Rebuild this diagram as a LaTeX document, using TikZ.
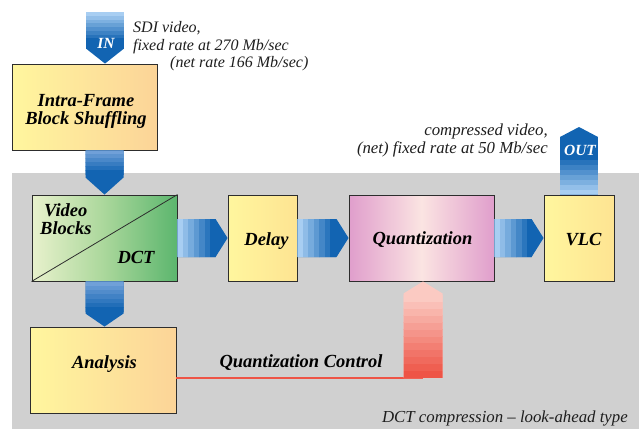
\documentclass[tikz,border=0pt]{standalone}
\usepackage{fontspec}
\setmainfont{Liberation Serif}
\usetikzlibrary{calc}

\definecolor{bg}{RGB}{208,208,208}
\definecolor{blight}{RGB}{168,206,242}
\definecolor{bmid}{RGB}{112,160,216}
\definecolor{bdark}{RGB}{18,100,178}
\definecolor{rdark}{RGB}{238,84,70}
\definecolor{rlight}{RGB}{251,202,194}
\definecolor{ylw}{RGB}{255,246,158}
\definecolor{org}{RGB}{252,212,152}
\definecolor{ylw2}{RGB}{254,228,146}
\definecolor{grnlight}{RGB}{232,241,204}
\definecolor{grnmid}{RGB}{170,215,155}
\definecolor{grndark}{RGB}{92,182,110}
\definecolor{pinkedge}{RGB}{224,158,204}
\definecolor{pinkmid}{RGB}{251,228,226}
\definecolor{boxline}{RGB}{45,45,45}
\definecolor{txt}{RGB}{30,30,30}

% Banded block arrow from #1 to #2:
% #3 half width, #4 head length, #5 colour at start, #6 colour at end,
% #7 length of the banded part, #8 number of bands
\newcommand\flowarrow[8]{%
  \path let \p1=(#1), \p2=(#2) in \pgfextra{%
    \pgfmathsetmacro\tmpa{veclen(\x2-\x1,\y2-\y1)}\global\let\flLen\tmpa
    \pgfmathsetmacro\tmpb{atan2(\y2-\y1,\x2-\x1)}\global\let\flAng\tmpb};
  \begin{scope}[shift={(#1)}, rotate=\flAng, x=1pt, y=1pt]
    \clip (0,-#3) -- ({\flLen-#4},-#3) -- (\flLen,0) -- ({\flLen-#4},#3) -- (0,#3) -- cycle;
    \fill[#6] (-1,{-#3-1}) rectangle ({\flLen+1},{#3+1});
    \pgfmathsetmacro\bw{#7/#8}
    \foreach \i in {1,...,#8}{%
      \pgfmathsetmacro\pc{(\i-1)*100/(#8-1)}
      \fill[#6!\pc!#5] ({(\i-1)*\bw},{-#3-1}) rectangle ({\i*\bw+0.4},{#3+1});
    }
  \end{scope}}

\begin{document}
\begin{tikzpicture}[x=1pt, y=-1pt,
  box/.style={draw=boxline, line width=0.9pt, minimum width=#1, minimum height=86pt, inner sep=0pt},
  yellowbox/.style={box=#1, left color=ylw, right color=org},
  paleyellow/.style={box=#1, left color=ylw, right color=ylw2},
  bl/.style={font=\fontsize{18.5}{18}\selectfont\bfseries\itshape, inner sep=0pt, align=center},
  note/.style={font=\fontsize{16}{18}\selectfont\itshape, text=txt, inner sep=0pt},
  widenote/.style={note, font=\fontsize{16.8}{18}\selectfont\itshape},
  tag/.style={font=\fontsize{15.5}{16}\selectfont\bfseries\itshape, text=white, inner sep=0pt},
  redline/.style={draw=rdark, line width=2pt}]

\useasboundingbox (0,0) rectangle (639,429);

% compression unit background
\fill[bg] (12,173) rectangle (639,429);

% processing blocks
\node[yellowbox=145] (ifs) at (84.5,107) {};
\node[box=145, left color=grnlight, right color=grndark, middle color=grnmid] (vb) at (104.5,238) {};
\draw[boxline, line width=0.8pt] (vb.south west) -- (vb.north east);
\node[paleyellow=69] (delay) at (262.5,238) {};
\node[box=145, left color=pinkedge, right color=pinkedge, middle color=pinkmid] (quant) at (421.5,238) {};
\node[paleyellow=70] (vlc) at (579,238) {};
\node[yellowbox=146] (ana) at (103,370) {};

% block labels
\node[bl] (ifst) at ([xshift=1.5pt, yshift=-4pt]ifs.center) {Intra-Frame\\Block Shuffling};
\node[bl] (delayt) at ([xshift=4pt, yshift=-3pt]delay.center) {Delay};
\node[bl] (quantt) at ([xshift=1pt, yshift=-2pt]quant.center) {Quantization};
\node[bl] (vlct) at ([xshift=4.5pt, yshift=-2pt]vlc.center) {VLC};
\node[bl] (anat) at ([xshift=1.5pt, yshift=6pt]ana.center) {Analysis};
\node[bl, anchor=base west] (vbt1) at (44,216) {Video};
\node[bl, anchor=base west] (vbt2) at (40,234) {Blocks};
\node[bl, anchor=base] (dct) at (136,263) {DCT};

% free ends of the flow
\coordinate (in) at (105,12);
\coordinate (out) at (579,127);
\coordinate (qc) at (423,378);

% quantization control line
\draw[redline] (ana.east |- qc) -- (qc);

% flow arrows
\flowarrow{in}{in |- ifs.north}{19}{15}{blight}{bdark}{30}{8}
\flowarrow{ifs.south -| vb.north}{vb.north}{19}{17}{bmid}{bdark}{24}{6}
\flowarrow{vb.south}{vb.south |- ana.north}{19}{13}{bmid}{bdark}{30}{7}
\flowarrow{vb.east}{delay.west}{19}{12}{blight}{bdark}{38}{7}
\flowarrow{delay.east}{quant.west}{19}{12}{blight}{bdark}{38}{7}
\flowarrow{quant.east}{vlc.west}{19}{12}{blight}{bdark}{38}{7}
\flowarrow{vlc.north}{out}{19}{10}{blight}{bdark}{40}{8}
\flowarrow{qc}{qc |- quant.south}{19.5}{12}{rdark}{rlight}{83}{12}

\node[tag] (intag) at (106,43) {IN};
\node[tag] (outtag) at (580,150) {OUT};

% annotations
\node[note, anchor=base west] (sdi1) at (133,32) {SDI video,};
\node[note, anchor=base west] (sdi2) at (133,50) {fixed rate at 270 Mb/sec};
\node[note, anchor=base west] (sdi3) at (170,67) {(net rate 166 Mb/sec)};
\node[widenote, anchor=base east] (cv1) at (548,135) {compressed video,};
\node[widenote, anchor=base east] (cv2) at (548,153) {(net) fixed rate at 50 Mb/sec};
\node[bl, anchor=base] (qctl) at (301,367) {Quantization Control};
\node[widenote, anchor=base east] (title) at (628,422) {DCT compression – look-ahead type};
\end{tikzpicture}
\end{document}
